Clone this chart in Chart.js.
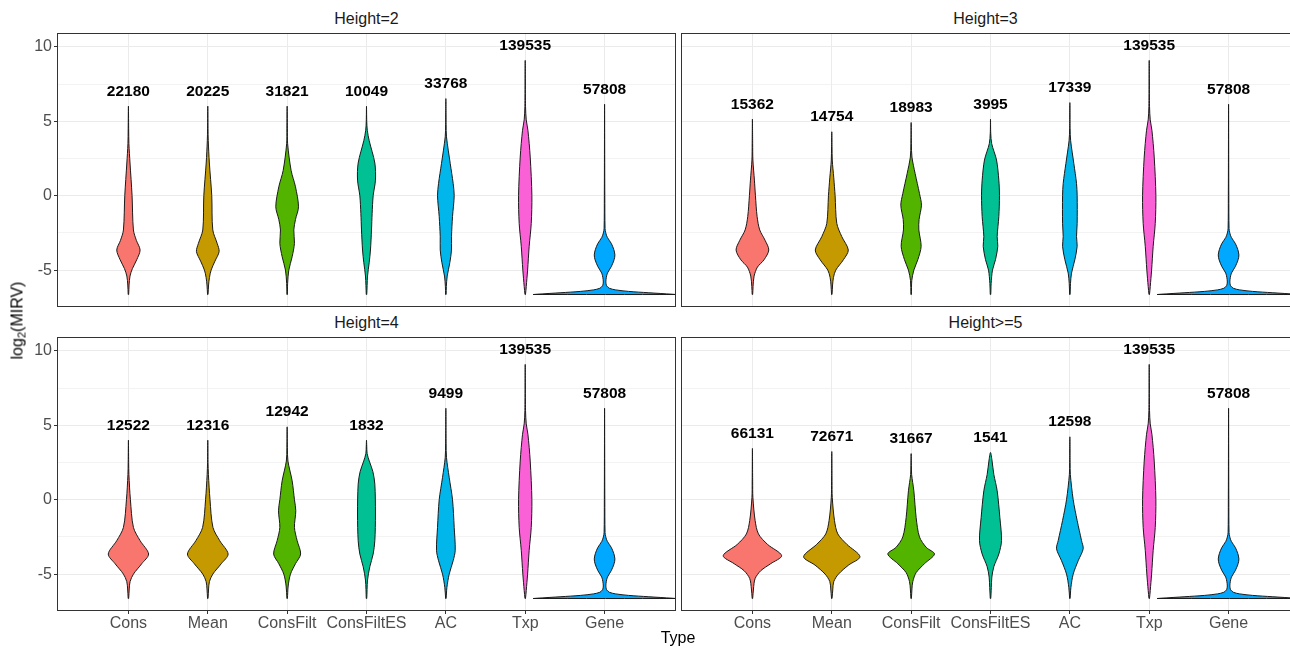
<!DOCTYPE html>
<html>
<head>
<meta charset="utf-8">
<script src="https://cdn.jsdelivr.net/npm/chart.js@4.4.0/dist/chart.umd.min.js"></script>
<style>
  html, body { margin: 0; padding: 0; background: #fff; overflow: hidden; }
  #page { position: relative; width: 1290px; height: 648px; overflow: hidden;
          font-family: "Liberation Sans", Arial, sans-serif; }
  canvas { position: absolute; }
  .strip { position: absolute; font-size: 16px; color: #1a1a1a; text-align: center; }
  #xtitle { position: absolute; left: 578px; width: 200px; top: 629px; text-align: center; font-size: 16px; color: #000; }
  #ytitle { position: absolute; left: -42px; top: 311px; width: 120px; text-align: center; font-size: 16px; color: #000;
            transform: rotate(-90deg); }
  #ytitle sub { font-size: 11px; vertical-align: -3px; }
</style>
</head>
<body>
<div id="page">
  <canvas id="p0" width="676" height="279" style="left:0;top:28px"></canvas>
  <canvas id="p1" width="619" height="279" style="left:681px;top:28px"></canvas>
  <canvas id="p2" width="676" height="316" style="left:0;top:332px"></canvas>
  <canvas id="p3" width="619" height="316" style="left:681px;top:332px"></canvas>
  <div class="strip" id="s0" style="left:57px;width:619px;top:10px"></div>
  <div class="strip" id="s1" style="left:681px;width:609px;top:10px"></div>
  <div class="strip" id="s2" style="left:57px;width:619px;top:314px"></div>
  <div class="strip" id="s3" style="left:681px;width:609px;top:314px"></div>
  <div id="xtitle">Type</div>
  <div id="ytitle">log<sub>2</sub>(MIRV)</div>
</div>
<script>
// categories and facet titles
const categories = ['Cons', 'Mean', 'ConsFilt', 'ConsFiltES', 'AC', 'Txp', 'Gene'];
const fillColors = ['#F8766D', '#C49A00', '#53B400', '#00C094', '#00B6EB', '#FB61D7', '#00A9FF'];
const panelTitles = ['Height=2', 'Height=3', 'Height=4', 'Height>=5'];
const yTicks = [-5, -2.5, 0, 2.5, 5, 7.5, 10];

// number of items per violin
const countsH2 = [22180, 20225, 31821, 10049, 33768, 139535, 57808];
const countsH3 = [15362, 14754, 18983, 3995, 17339, 139535, 57808];
const countsH4 = [12522, 12316, 12942, 1832, 9499, 139535, 57808];
const countsH5 = [66131, 72671, 31667, 1541, 12598, 139535, 57808];

// violin outlines: [log2(MIRV), half width of the density], bottom to top (last = max value)
const consH2 = [[-6.64, 0.003], [-6.0, 0.008], [-5.4, 0.02], [-4.9, 0.05], [-4.3, 0.105], [-3.65, 0.147], [-3.0, 0.1], [-2.3, 0.063], [0, 0.046], [2.2, 0.02], [3.5, 0.006], [4.5, 0.003], [6.02, 0]];
const meanH2 = [[-6.64, 0.003], [-6.0, 0.01], [-5.5, 0.021], [-5.0, 0.042], [-4.4, 0.09], [-3.75, 0.143], [-3.2, 0.118], [-2.3, 0.063], [0, 0.05], [2.2, 0.02], [3.7, 0.006], [4.5, 0.003], [6.02, 0]];
const consFiltH2 = [[-6.64, 0.003], [-5.9, 0.006], [-5.0, 0.021], [-4.1, 0.063], [-3.2, 0.092], [-2.3, 0.084], [-1.6, 0.105], [-0.74, 0.143], [0.6, 0.105], [1.7, 0.05], [3.5, 0.006], [4.5, 0.003], [6.02, 0]];
const consFiltESH2 = [[-6.64, 0.003], [-5.4, 0.013], [-4.5, 0.034], [-3.65, 0.05], [-2.3, 0.063], [-1.2, 0.071], [0, 0.084], [1.05, 0.113], [2.2, 0.105], [3.7, 0.034], [4.4, 0.01], [5.0, 0.003], [6.02, 0]];
const acH2 = [[-6.64, 0.003], [-6.1, 0.006], [-5.4, 0.017], [-4.5, 0.05], [-3.65, 0.071], [-2.75, 0.071], [-1.4, 0.084], [0, 0.105], [0.83, 0.092], [2.17, 0.055], [3.96, 0.008], [4.8, 0.003], [6.53, 0]];

const consH3 = [[-6.64, 0.003], [-6.1, 0.008], [-5.4, 0.021], [-4.8, 0.063], [-4.3, 0.147], [-3.65, 0.206], [-3.0, 0.16], [-2.3, 0.092], [-1.4, 0.059], [0, 0.038], [1.05, 0.025], [2.4, 0.006], [3.5, 0.003], [5.15, 0]];
const meanH3 = [[-6.64, 0.003], [-6.0, 0.01], [-5.5, 0.021], [-5.0, 0.05], [-4.3, 0.147], [-3.65, 0.208], [-2.75, 0.126], [-1.86, 0.063], [0, 0.042], [1.2, 0.025], [2.4, 0.006], [3.3, 0.003], [4.3, 0]];
const consFiltH3 = [[-6.64, 0.003], [-5.7, 0.008], [-5.0, 0.034], [-4.3, 0.084], [-3.4, 0.126], [-2.3, 0.097], [-1.6, 0.1], [-0.63, 0.13], [0.15, 0.105], [1.5, 0.05], [2.6, 0.01], [3.5, 0.003], [4.92, 0]];
const consFiltESH3 = [[-6.64, 0.003], [-5.9, 0.008], [-5.0, 0.025], [-4.3, 0.063], [-3.4, 0.092], [-2.75, 0.084], [-1.4, 0.105], [0, 0.113], [1.05, 0.105], [2.4, 0.076], [3.5, 0.015], [4.2, 0.003], [5.15, 0]];
const acH3 = [[-6.64, 0.003], [-5.9, 0.008], [-5.2, 0.021], [-4.3, 0.063], [-3.4, 0.092], [-2.75, 0.084], [-1.86, 0.092], [0, 0.092], [0.83, 0.084], [2.17, 0.05], [3.7, 0.01], [4.5, 0.003], [6.26, 0]];

const consH4 = [[-6.64, 0.003], [-6.0, 0.01], [-5.5, 0.021], [-5.0, 0.063], [-4.3, 0.168], [-3.65, 0.254], [-2.75, 0.147], [-1.86, 0.063], [0, 0.025], [1.7, 0.006], [2.5, 0.003], [4.0, 0]];
const meanH4 = [[-6.64, 0.003], [-6.0, 0.01], [-5.5, 0.021], [-5.0, 0.063], [-4.3, 0.17], [-3.65, 0.256], [-2.75, 0.15], [-1.86, 0.065], [0, 0.028], [1.7, 0.008], [2.5, 0.003], [4.0, 0]];
const consFiltH4 = [[-6.64, 0.003], [-5.8, 0.013], [-5.0, 0.042], [-4.3, 0.105], [-3.65, 0.17], [-2.75, 0.126], [-1.86, 0.092], [-0.74, 0.109], [0, 0.092], [1.27, 0.063], [2.6, 0.01], [3.5, 0.003], [4.9, 0]];
const consFiltESH4 = [[-6.64, 0.003], [-5.4, 0.013], [-4.5, 0.042], [-3.65, 0.084], [-2.75, 0.105], [-0.96, 0.113], [1.05, 0.105], [1.9, 0.08], [2.6, 0.035], [3.1, 0.008], [3.6, 0.003], [4.0, 0]];
const acH4 = [[-6.64, 0.003], [-5.9, 0.013], [-5.0, 0.042], [-4.1, 0.092], [-3.4, 0.118], [-1.86, 0.105], [0, 0.084], [1.5, 0.042], [2.84, 0.008], [3.8, 0.003], [6.15, 0]];

const consH5 = [[-6.64, 0.003], [-6.0, 0.013], [-5.3, 0.034], [-4.77, 0.105], [-4.3, 0.23], [-3.76, 0.368], [-3.0, 0.19], [-2.3, 0.076], [-1.4, 0.034], [0.15, 0.006], [1.2, 0.003], [3.45, 0]];
const meanH5 = [[-6.64, 0.003], [-6.0, 0.013], [-5.5, 0.025], [-5.0, 0.084], [-4.4, 0.21], [-3.83, 0.355], [-3.0, 0.19], [-2.3, 0.076], [-1.4, 0.034], [0.15, 0.006], [1.2, 0.003], [3.24, 0]];
const consFiltH5 = [[-6.64, 0.003], [-6.0, 0.01], [-5.5, 0.021], [-4.9, 0.063], [-4.3, 0.168], [-3.65, 0.294], [-3.2, 0.19], [-2.5, 0.105], [-1.2, 0.063], [0.6, 0.034], [1.7, 0.006], [2.3, 0.003], [3.1, 0]];
const consFiltESH5 = [[-6.64, 0.003], [-5.9, 0.01], [-5.2, 0.017], [-4.5, 0.042], [-3.65, 0.105], [-2.75, 0.139], [-1.2, 0.118], [0.6, 0.084], [1.7, 0.042], [2.6, 0.02], [3.18, 0]];
const acH5 = [[-6.64, 0.003], [-5.9, 0.013], [-5.0, 0.042], [-4.1, 0.105], [-3.3, 0.168], [-2.75, 0.147], [-1.4, 0.092], [0, 0.042], [1.7, 0.006], [2.5, 0.003], [4.23, 0]];

// Txp and Gene do not depend on height
const txpAll = [[-6.64, 0.003], [-6.1, 0.013], [-5.0, 0.03], [-3.4, 0.05], [-1.86, 0.076], [0, 0.084], [2.6, 0.063], [4.4, 0.034], [5.1, 0.013], [6.0, 0.004], [9.1, 0]];
const geneAll = [[-6.64, 0.9], [-6.62, 0.85], [-6.52, 0.55], [-6.43, 0.3], [-6.33, 0.14], [-6.22, 0.06], [-6.05, 0.025], [-5.8, 0.016], [-5.5, 0.022], [-5.2, 0.036], [-4.77, 0.084], [-4.3, 0.12], [-3.98, 0.13], [-3.6, 0.115], [-3.2, 0.084], [-2.8, 0.035], [-2.5, 0.015], [-2.2, 0.006], [0, 0.003], [6.15, 0]];

const panels = [
  { counts: countsH2, shapes: [consH2, meanH2, consFiltH2, consFiltESH2, acH2, txpAll, geneAll] },
  { counts: countsH3, shapes: [consH3, meanH3, consFiltH3, consFiltESH3, acH3, txpAll, geneAll] },
  { counts: countsH4, shapes: [consH4, meanH4, consFiltH4, consFiltESH4, acH4, txpAll, geneAll] },
  { counts: countsH5, shapes: [consH5, meanH5, consFiltH5, consFiltESH5, acH5, txpAll, geneAll] },
];

Chart.defaults.font.family = '"Liberation Sans", Arial, sans-serif';

// closed outline: left side going up, right side coming down
function violinPoints(knots, center) {
  const left = knots.map(([y, w]) => ({ x: center - w, y }));
  const right = knots.slice(0, -1).reverse().map(([y, w]) => ({ x: center + w, y }));
  return [...left, ...right, left[0]];
}

// fill each outline before its line gets stroked
const violinFill = {
  id: 'violinFill',
  beforeDatasetDraw(chart, args) {
    const line = args.meta.dataset;
    if (!line) return;
    const ctx = chart.ctx;
    const a = chart.chartArea;
    line.updateControlPoints(a, 'x');
    ctx.save();
    ctx.beginPath();
    ctx.rect(a.left, a.top, a.right - a.left, a.bottom - a.top);
    ctx.clip();
    ctx.beginPath();
    line.path(ctx);
    ctx.closePath();
    ctx.fillStyle = line.options.backgroundColor;
    ctx.fill();
    ctx.restore();
  }
};

// counts above each violin and the panel border
const countLabels = {
  id: 'countLabels',
  afterDatasetsDraw(chart) {
    const p = chart.options.plugins.countLabels;
    const xs = chart.scales.x, ys = chart.scales.y;
    const ctx = chart.ctx;
    ctx.save();
    ctx.font = 'bold 15.5px "Liberation Sans", Arial, sans-serif';
    ctx.fillStyle = '#000';
    ctx.textAlign = 'center';
    ctx.textBaseline = 'middle';
    p.counts.forEach((n, i) => {
      const top = p.shapes[i][p.shapes[i].length - 1][0];
      ctx.fillText(String(n), xs.getPixelForValue(i + 1), ys.getPixelForValue(top + 1));
    });
    ctx.restore();
  },
  afterDraw(chart) {
    const a = chart.chartArea;
    const ctx = chart.ctx;
    ctx.save();
    ctx.strokeStyle = '#333333';
    ctx.lineWidth = 1;
    ctx.strokeRect(a.left + 0.5, a.top + 0.5, a.right - a.left - 1, a.bottom - a.top - 1);
    ctx.restore();
  }
};

const isMajor = v => v % 5 === 0;

panels.forEach((panel, k) => {
  const showY = k % 2 === 0;
  const showX = k >= 2;
  document.getElementById('s' + k).textContent = panelTitles[k];

  const datasets = panel.shapes.map((knots, i) => ({
    data: violinPoints(knots, i + 1),
    borderColor: '#1a1a1a',
    borderWidth: 1,
    backgroundColor: fillColors[i],
    pointRadius: 0,
    tension: 0.3,
    fill: false
  }));

  new Chart(document.getElementById('p' + k), {
    type: 'line',
    data: { datasets },
    plugins: [violinFill, countLabels],
    options: {
      responsive: false,
      animation: false,
      events: [],
      layout: { padding: { top: 5, left: 0, right: 0, bottom: 0 } },
      plugins: {
        legend: { display: false },
        tooltip: { enabled: false },
        countLabels: { counts: panel.counts, shapes: panel.shapes }
      },
      scales: {
        x: {
          type: 'linear',
          min: 0.1,
          max: 7.9,
          afterBuildTicks: s => { s.ticks = categories.map((c, i) => ({ value: i + 1 })); },
          afterFit: s => { s.height = showX ? 37 : 0; s.paddingLeft = 0; s.paddingRight = 0; },
          border: { display: false },
          grid: { color: '#EBEBEB', lineWidth: 1, drawTicks: showX, tickLength: 3, tickColor: '#333333' },
          ticks: {
            display: showX,
            autoSkip: false,
            maxRotation: 0,
            padding: 0,
            color: '#4D4D4D',
            font: { size: 16 },
            callback: v => categories[v - 1]
          }
        },
        y: {
          type: 'linear',
          min: -7.48,
          max: 10.94,
          afterBuildTicks: s => { s.ticks = yTicks.map(v => ({ value: v })); },
          afterFit: s => { s.width = showY ? 57 : 0; s.paddingTop = 0; s.paddingBottom = 0; },
          border: { display: false },
          grid: {
            color: '#EBEBEB',
            lineWidth: c => (c.tick && isMajor(c.tick.value)) ? 1 : 0.6,
            drawTicks: showY,
            tickLength: 3,
            tickColor: c => (c.tick && isMajor(c.tick.value)) ? '#333333' : 'rgba(0,0,0,0)'
          },
          ticks: {
            display: showY,
            padding: 2,
            color: '#4D4D4D',
            font: { size: 16 },
            callback: v => isMajor(v) ? String(v) : ''
          }
        }
      }
    }
  });
});
</script>
</body>
</html>
